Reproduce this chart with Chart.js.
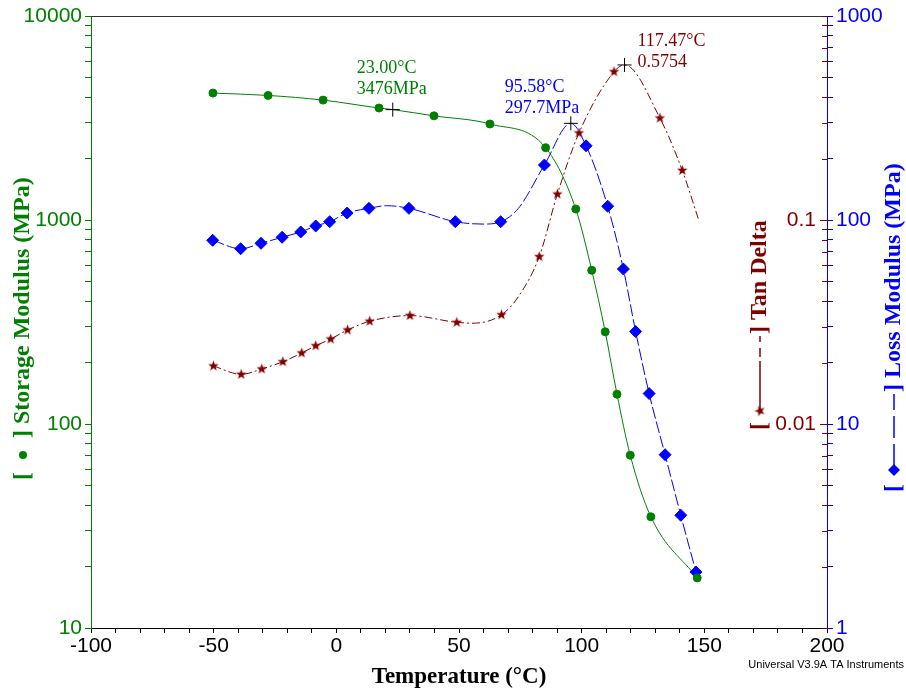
<!DOCTYPE html>
<html>
<head>
<meta charset="utf-8">
<title>DMA</title>
<script src="https://cdn.jsdelivr.net/npm/chart.js@4.4.0/dist/chart.umd.min.js"></script>
<style>
  html, body { margin: 0; padding: 0; background: #fff; }
</style>
</head>
<body>
<canvas id="dma" width="906" height="689"></canvas>
<script>
// marker points
const storageTemp = [-50.3, -27.8, -5.4, 17.4, 39.8, 62.6, 85.3, 97.6, 104.1, 109.6, 114.4, 119.8, 128.2, 147.1];
const storageMod = [4190, 4080, 3870, 3540, 3240, 2955, 2262, 1132, 567, 283, 140, 70.3, 35.1, 17.6];
const lossTemp = [-50.4, -39.0, -30.7, -22.1, -14.5, -8.4, -2.7, 4.4, 13.3, 29.6, 48.5, 67.0, 84.8, 101.8, 110.6, 117.0, 122.0, 127.5, 134.0, 140.4, 146.6];
const lossMod = [79.5, 72.3, 76.9, 82.3, 87.4, 93.5, 98.1, 108.2, 114.1, 114.1, 98.1, 98.1, 186, 231, 116.8, 57.5, 28.4, 14.1, 7.07, 3.57, 1.88];
const tanTemp = [-50.1, -38.8, -30.4, -21.8, -14.1, -8.4, -2.3, 4.6, 13.6, 30.0, 49.1, 67.3, 82.7, 90.1, 98.9, 113.2, 131.9, 141.0];
const tanDelta = [0.01925, 0.01752, 0.01861, 0.0202, 0.0223, 0.0242, 0.0261, 0.0289, 0.0319, 0.0340, 0.0315, 0.0343, 0.0661, 0.134, 0.267, 0.533, 0.316, 0.175];

// extra points on the traced curves (no marker there)
const storageCurveTemp = [23.0];
const storageCurveMod = [3476];
const lossCurveTemp = [20.5, 59.8, 74.2, 95.58];
const lossCurveMod = [117.5, 95.5, 114, 297.7];
const tanCurveTemp = [55.7, 74.2, 117.47, 147.6];
const tanCurveVal = [0.0312, 0.0421, 0.5754, 0.101];

// cursor readouts: storage at 23 C, loss peak, tan delta peak
const cursorTemp = [23.00, 95.58, 117.47];
const cursorVal = [3476, 297.7, 0.5754];

// axis ticks
const storageLabels = [10, 100, 1000, 10000];
const lossLabels = [1, 10, 100, 1000];
const tanLabels = [0.1, 0.01];

const GREEN = "#008000";
const BLUE = "#0000ff";
const RED = "#800000";
const SANS = "'Liberation Sans', Arial, sans-serif";
const SERIF = "'Liberation Serif', 'Times New Roman', serif";

function decadeTicks(lo, hi) {
  const out = [];
  for (let d = lo; d < hi * 0.999; d *= 10) {
    for (let m = 1; m < 10; m++) out.push(+(m * d).toPrecision(3));
  }
  out.push(hi);
  return out;
}
const storageTicks = decadeTicks(10, 10000);
const lossTicks = decadeTicks(1, 1000);
const tanTicks = decadeTicks(0.001, 1);

function points(ts, vs) {
  return ts.map((t, i) => ({ x: t, y: vs[i] }));
}
function curve(ts, vs, extraT, extraV) {
  return points(ts, vs).concat(points(extraT, extraV)).sort((p, q) => p.x - q.x);
}

function starImage(color, r) {
  const c = document.createElement("canvas");
  const s = Math.ceil(r * 2 + 2);
  c.width = c.height = s;
  const g = c.getContext("2d");
  g.fillStyle = color;
  g.beginPath();
  for (let i = 0; i < 10; i++) {
    const rr = i % 2 ? r * 0.42 : r;
    const ang = -Math.PI / 2 + (i * Math.PI) / 5;
    g.lineTo(s / 2 + rr * Math.cos(ang), s / 2 + rr * Math.sin(ang));
  }
  g.closePath();
  g.fill();
  return c;
}
const star = starImage(RED, 5.5);

function logAxis(pos, min, max, ticks, labels, color, width) {
  return {
    type: "logarithmic",
    position: pos,
    min: min,
    max: max,
    border: { color: color, width: 1 },
    grid: { drawOnChartArea: false, drawTicks: true, tickLength: 6, color: color },
    ticks: {
      color: color,
      padding: 3,
      autoSkip: false,
      font: { family: SANS, size: 21 },
      callback: (v) => (labels.includes(v) ? String(v) : ""),
    },
    afterBuildTicks: (s) => {
      s.ticks = ticks.map((v) => ({ value: v }));
    },
    afterFit: (s) => {
      s.width = width;
    },
  };
}

// bracketed legend + rotated axis title
function sideTitle(ctx, cx, yBottom, color, symLen, symbol, text) {
  ctx.save();
  ctx.translate(cx, yBottom);
  ctx.rotate(-Math.PI / 2);
  ctx.font = "bold 24px " + SERIF;
  ctx.fillStyle = color;
  ctx.strokeStyle = color;
  ctx.textBaseline = "middle";
  ctx.textAlign = "left";
  let x = 0;
  ctx.fillText("[", x, 0);
  x += ctx.measureText("[").width + 2;
  symbol(ctx, x, symLen);
  x += symLen + 2;
  ctx.fillText("]", x, 0);
  x += ctx.measureText("] ").width;
  ctx.fillText(text, x, 0);
  ctx.restore();
}

const overlay = {
  id: "overlay",
  afterDraw(chart) {
    const { ctx, chartArea: a, scales } = chart;
    ctx.save();

    // top frame line
    ctx.strokeStyle = "#333";
    ctx.lineWidth = 1;
    ctx.beginPath();
    ctx.moveTo(a.left, a.top + 0.5);
    ctx.lineTo(a.right, a.top + 0.5);
    ctx.stroke();

    // tan delta axis, drawn inside the right edge
    const yT = scales.yTan;
    ctx.strokeStyle = RED;
    tanTicks.forEach((v) => {
      const y = Math.round(yT.getPixelForValue(v)) + 0.5;
      const len = tanLabels.includes(v) ? 7 : 5;
      ctx.beginPath();
      ctx.moveTo(a.right - len, y);
      ctx.lineTo(a.right, y);
      ctx.stroke();
    });
    ctx.fillStyle = RED;
    ctx.font = "21px " + SANS;
    ctx.textAlign = "right";
    ctx.textBaseline = "middle";
    tanLabels.forEach((v) => {
      ctx.fillText(String(v), a.right - 11, yT.getPixelForValue(v));
    });

    // cursor readouts
    const axes = [scales.yStorage, scales.yLoss, scales.yTan];
    const colors = [GREEN, BLUE, RED];
    const texts = [
      [cursorTemp[0].toFixed(2) + "°C", cursorVal[0] + "MPa"],
      [cursorTemp[1].toFixed(2) + "°C", cursorVal[1] + "MPa"],
      [cursorTemp[2].toFixed(2) + "°C", String(cursorVal[2])],
    ];
    const offs = [[-36, -37, -16], [-66, -31, -10], [13, -19, 2]];
    ctx.font = "18px " + SERIF;
    ctx.textAlign = "left";
    ctx.textBaseline = "alphabetic";
    for (let i = 0; i < 3; i++) {
      const px = scales.x.getPixelForValue(cursorTemp[i]);
      const py = axes[i].getPixelForValue(cursorVal[i]);
      ctx.fillStyle = colors[i];
      ctx.fillText(texts[i][0], px + offs[i][0], py + offs[i][1]);
      ctx.fillText(texts[i][1], px + offs[i][0], py + offs[i][2]);
    }

    // axis titles
    const mid = (a.top + a.bottom) / 2;
    sideTitle(ctx, 23, mid + 158, GREEN, 30, (c, x, len) => {
      c.beginPath();
      c.arc(x + len / 2, 0, 4, 0, Math.PI * 2);
      c.fill();
    }, "Storage Modulus (MPa)");

    sideTitle(ctx, 760, mid + 108, RED, 84, (c, x, len) => {
      c.save();
      c.lineWidth = 1.5;
      c.setLineDash([50, 4, 9, 6, 8, 50]);
      c.beginPath();
      c.moveTo(x + 9, 0);
      c.lineTo(x + len, 0);
      c.stroke();
      c.restore();
      c.drawImage(star, x + 9 - star.width / 2, -star.height / 2);
    }, "Tan Delta");

    sideTitle(ctx, 894, mid + 170, BLUE, 88, (c, x, len) => {
      c.save();
      c.lineWidth = 1.5;
      c.setLineDash([26, 6, 22, 6, 22, 6]);
      c.beginPath();
      c.moveTo(x + 12, 0);
      c.lineTo(x + len, 0);
      c.stroke();
      c.restore();
      c.beginPath();
      c.moveTo(x + 12 - 6, 0);
      c.lineTo(x + 12, -6);
      c.lineTo(x + 12 + 6, 0);
      c.lineTo(x + 12, 6);
      c.closePath();
      c.fill();
    }, "Loss Modulus (MPa)");

    ctx.fillStyle = "#000";
    ctx.font = "bold 23px " + SERIF;
    ctx.textAlign = "center";
    ctx.textBaseline = "alphabetic";
    ctx.fillText("Temperature (°C)", (a.left + a.right) / 2, 683);

    ctx.font = "11px " + SANS;
    ctx.textAlign = "right";
    ctx.fillText("Universal V3.9A TA Instruments", 904, 668);

    ctx.restore();
  },
};

const cursorBase = {
  showLine: false,
  pointStyle: "cross",
  pointRadius: 7,
  pointBorderColor: "#000",
  pointBorderWidth: 1,
  order: 0,
};

new Chart(document.getElementById("dma"), {
  type: "scatter",
  data: {
    datasets: [
      Object.assign({ label: "E' cursor", data: [{ x: cursorTemp[0], y: cursorVal[0] }], yAxisID: "yStorage" }, cursorBase),
      Object.assign({ label: "E'' peak", data: [{ x: cursorTemp[1], y: cursorVal[1] }], yAxisID: "yLoss" }, cursorBase),
      Object.assign({ label: "tan peak", data: [{ x: cursorTemp[2], y: cursorVal[2] }], yAxisID: "yTan" }, cursorBase),
      {
        label: "Storage Modulus markers",
        data: points(storageTemp, storageMod),
        yAxisID: "yStorage",
        showLine: false,
        pointStyle: "circle",
        pointRadius: 4,
        pointBackgroundColor: GREEN,
        pointBorderColor: GREEN,
        pointBorderWidth: 1,
        order: 1,
      },
      {
        label: "Loss Modulus markers",
        data: points(lossTemp, lossMod),
        yAxisID: "yLoss",
        showLine: false,
        pointStyle: "rectRot",
        pointRadius: 6,
        pointBackgroundColor: BLUE,
        pointBorderColor: BLUE,
        pointBorderWidth: 1,
        order: 1,
      },
      {
        label: "Tan Delta markers",
        data: points(tanTemp, tanDelta),
        yAxisID: "yTan",
        showLine: false,
        pointStyle: star,
        order: 1,
      },
      {
        label: "Storage Modulus",
        data: curve(storageTemp, storageMod, storageCurveTemp, storageCurveMod),
        yAxisID: "yStorage",
        showLine: true,
        fill: false,
        pointRadius: 0,
        borderColor: GREEN,
        borderWidth: 1,
        cubicInterpolationMode: "monotone",
        order: 2,
      },
      {
        label: "Loss Modulus",
        data: curve(lossTemp, lossMod, lossCurveTemp, lossCurveMod),
        yAxisID: "yLoss",
        showLine: true,
        fill: false,
        pointRadius: 0,
        borderColor: BLUE,
        borderWidth: 1,
        borderDash: [12, 3],
        cubicInterpolationMode: "monotone",
        order: 2,
      },
      {
        label: "Tan Delta",
        data: curve(tanTemp, tanDelta, tanCurveTemp, tanCurveVal),
        yAxisID: "yTan",
        showLine: true,
        fill: false,
        pointRadius: 0,
        borderColor: RED,
        borderWidth: 1,
        borderDash: [8, 3, 2, 3],
        cubicInterpolationMode: "monotone",
        order: 2,
      },
    ],
  },
  options: {
    responsive: false,
    animation: false,
    layout: { padding: { top: 16, left: 0, right: 0, bottom: 0 } },
    plugins: { legend: { display: false }, tooltip: { enabled: false } },
    scales: {
      x: {
        type: "linear",
        position: "bottom",
        min: -100,
        max: 200,
        border: { color: "#000", width: 1 },
        grid: { drawOnChartArea: false, drawTicks: true, tickLength: 5, color: "#000" },
        ticks: {
          stepSize: 10,
          autoSkip: false,
          maxRotation: 0,
          padding: 1,
          color: "#000",
          font: { family: SANS, size: 21 },
          callback: (v) => (v % 50 === 0 ? String(v) : ""),
        },
        afterFit: (s) => {
          s.height = 61;
        },
      },
      yStorage: logAxis("left", 10, 10000, storageTicks, storageLabels, GREEN, 91),
      yLoss: logAxis("right", 1, 1000, lossTicks, lossLabels, BLUE, 79),
      yTan: { type: "logarithmic", position: "right", min: 0.001, max: 1, display: false },
    },
  },
  plugins: [overlay],
});
</script>
</body>
</html>
